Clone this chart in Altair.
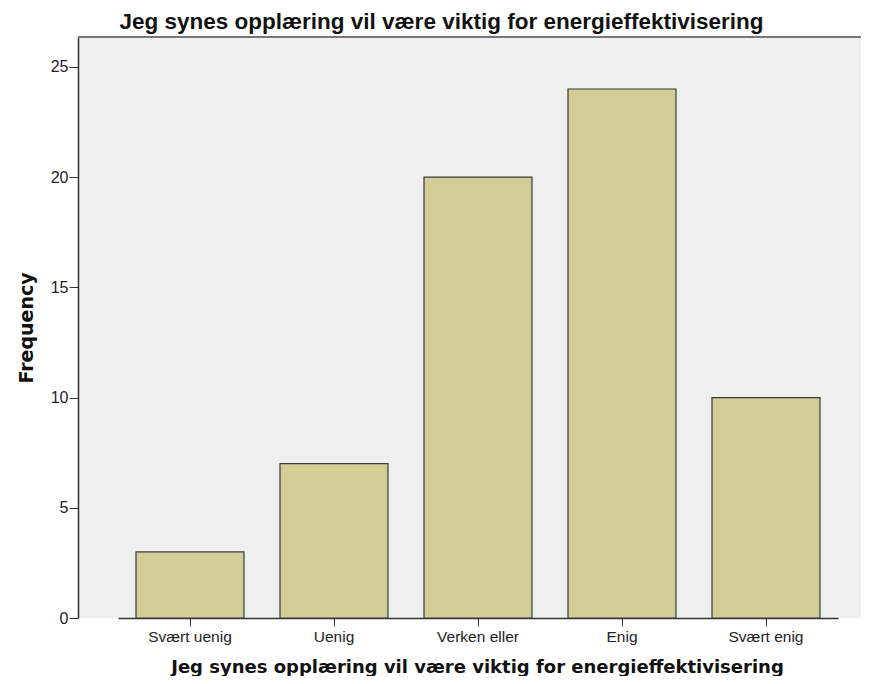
import altair as alt
import pandas as pd

categories = ["Svært uenig", "Uenig", "Verken eller", "Enig", "Svært enig"]
frequencies = [3, 7, 20, 24, 10]

title_text = "Jeg synes opplæring vil være viktig for energieffektivisering"

df = pd.DataFrame({"cat": categories, "freq": frequencies})

W = 783
H = 581

base = alt.Chart(df)

bars = base.mark_bar(color="#d3ce97", stroke="#3a3a3a", strokeWidth=1.2).encode(
    x=alt.X(
        "cat:N",
        sort=categories,
        scale=alt.Scale(range=[40, 760], paddingInner=0.25, paddingOuter=0.125),
        axis=alt.Axis(
            title=title_text,
            titleFont="DejaVu Sans",
            titleFontSize=18,
            titleFontWeight="bold",
            titleColor="#111",
            titlePadding=14,
            titleX=399,
            labelFont="Liberation Sans",
            labelFontSize=15.5,
            labelColor="#222",
            labelAngle=0,
            labelPadding=3,
            tickSize=8,
            tickColor="#333",
            domainColor="#333",
            domainWidth=1.5,
        ),
    ),
    y=alt.Y(
        "freq:Q",
        scale=alt.Scale(domain=[0, 26.36], nice=False),
        axis=alt.Axis(
            title="Frequency",
            titleFont="DejaVu Sans",
            titleFontSize=19,
            titleFontWeight="bold",
            titleColor="#111",
            titlePadding=14,
            values=[0, 5, 10, 15, 20, 25],
            labelFont="Liberation Sans",
            labelFontSize=16,
            labelColor="#222",
            labelPadding=1,
            tickSize=9,
            tickColor="#333",
            domainColor="#333",
            domainWidth=1.5,
            grid=False,
        ),
    ),
)

top_border = base.mark_rule(color="#777777", strokeWidth=2).encode(
    x=alt.value(0), x2=alt.value(W), y=alt.value(0)
)

chart = (
    alt.layer(bars, top_border)
    .properties(
        width=W,
        height=H,
        title=alt.TitleParams(
            text=title_text,
            font="Liberation Sans",
            fontSize=22.5,
            fontWeight="bold",
            color="#111",
            anchor="middle",
            dx=-28,
            offset=3,
        ),
        autosize=alt.AutoSizeParams(type="none"),
        padding={"left": 70, "top": 29, "right": 0, "bottom": 58},
    )
    .configure_view(fill="#f0f0f0", stroke=None)
)

chart.save("out.html", embed_options={"renderer": "svg", "actions": False})
